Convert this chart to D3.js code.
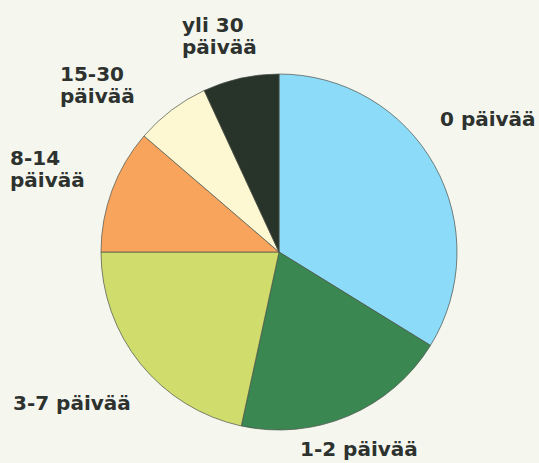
<!DOCTYPE html>
<html>
<head>
<meta charset="utf-8">
<script src="https://cdn.jsdelivr.net/npm/d3@7"></script>
<style>
  body { margin: 0; background: #f5f7ef; }
  svg { display: block; }
  .label { font-family: "DejaVu Sans", sans-serif; font-weight: bold; font-size: 20px; fill: #2e322f; }
</style>
</head>
<body>
<div id="chart"></div>
<script>
var categories = ["0 päivää", "1-2 päivää", "3-7 päivää", "8-14 päivää", "15-30 päivää", "yli 30 päivää"];
var values = [33.8, 19.6, 21.6, 11.3, 6.8, 6.9];
var colors = ["#8cdbf9", "#3a8752", "#d0dd6c", "#f9a45c", "#fdf8d2", "#28332a"];
// label lines as printed, one array per slice
var labelLines = [["0 päivää"], ["1-2 päivää"], ["3-7 päivää"], ["8-14", "päivää"], ["15-30", "päivää"], ["yli 30", "päivää"]];
var labelPos = [[440, 126], [300, 456], [13, 410], [10, 165], [60, 81], [182, 32]];

var width = 539, height = 463;
var cx = 279, cy = 252, radius = 178;

var svg = d3.select("#chart").append("svg")
    .attr("width", width)
    .attr("height", height);

var pie = d3.pie().sort(null).value(function(d) { return d; });
var arc = d3.arc().innerRadius(0).outerRadius(radius);
var color = d3.scaleOrdinal().domain(categories).range(colors);

var g = svg.append("g").attr("transform", "translate(" + cx + "," + cy + ")");
g.selectAll("path")
    .data(pie(values))
    .enter().append("path")
    .attr("d", arc)
    .attr("fill", function(d, i) { return color(categories[i]); })
    .attr("stroke", "#4a5048")
    .attr("stroke-width", 0.7);

var labels = svg.selectAll("text.label")
    .data(labelLines)
    .enter().append("text")
    .attr("class", "label")
    .attr("transform", function(d, i) { return "translate(" + labelPos[i][0] + "," + labelPos[i][1] + ")"; });
labels.selectAll("tspan")
    .data(function(d) { return d; })
    .enter().append("tspan")
    .attr("x", 0)
    .attr("dy", function(d, j) { return j === 0 ? 0 : 22; })
    .text(function(d) { return d; });
</script>
</body>
</html>
